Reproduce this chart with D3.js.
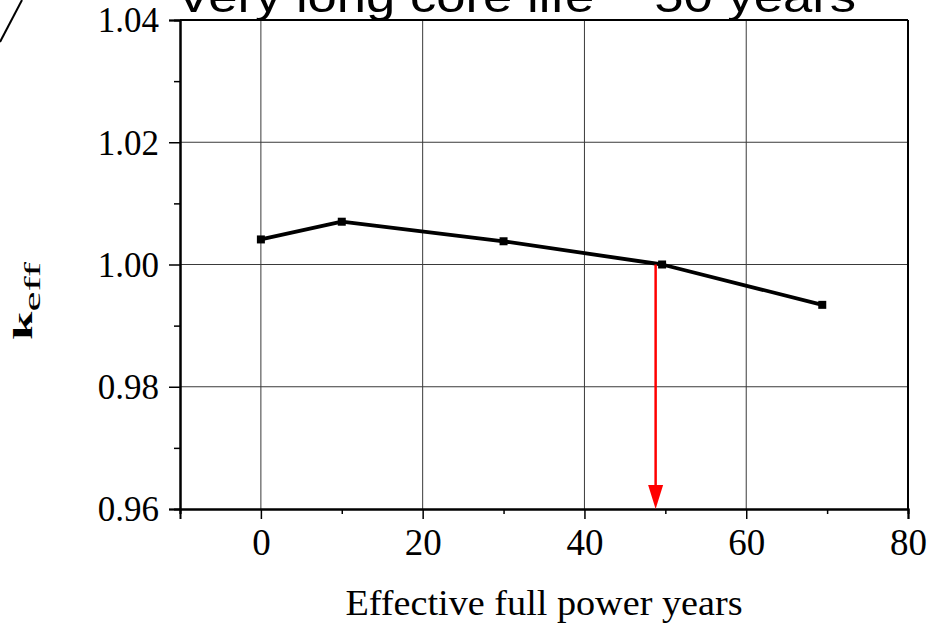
<!DOCTYPE html>
<html>
<head>
<meta charset="utf-8">
<script src="https://cdn.jsdelivr.net/npm/d3@7"></script>
<style>
  html, body { margin: 0; padding: 0; background: #fff; }
  svg { display: block; }
</style>
</head>
<body>
<svg id="chart" width="940" height="623"></svg>
<script>
// ---- data ----
const years = [0, 10, 30, 49.6, 69.4];
const keff = [1.0041, 1.0070, 1.0038, 1.0000, 0.9934];
const xMajorTicks = [0, 20, 40, 60, 80];
const xMinorTicks = [-10, 10, 30, 50, 70];
const yMajorTicks = [0.96, 0.98, 1.00, 1.02, 1.04];
const yMinorTicks = [0.97, 0.99, 1.01, 1.03];
const arrowYear = [48.8];
const arrowKeff = [1.0000];
const titleText = "Very long core life ~ 50 years";
const xLabel = "Effective full power years";

const svg = d3.select("#chart");
const L = 180, R = 908, T = 20, B = 509;
const x = d3.scaleLinear().domain([-10, 80]).range([L, R]);
const y = d3.scaleLinear().domain([0.96, 1.04]).range([B, T]);

// grid
const grid = svg.append("g").attr("stroke", "#3a3a3a").attr("stroke-width", 1);
grid.selectAll("line.gx").data(xMajorTicks.filter(d => d > -10 && d < 80)).enter()
  .append("line").attr("x1", d => x(d)).attr("x2", d => x(d)).attr("y1", T).attr("y2", B);
grid.selectAll("line.gy").data(yMajorTicks.filter(d => d > 0.96 && d < 1.04)).enter()
  .append("line").attr("x1", L).attr("x2", R).attr("y1", d => y(d)).attr("y2", d => y(d));

// frame top/right
svg.append("line").attr("x1", L).attr("x2", R).attr("y1", T).attr("y2", T).attr("stroke", "#000").attr("stroke-width", 2);
svg.append("line").attr("x1", R).attr("x2", R).attr("y1", T).attr("y2", B).attr("stroke", "#000").attr("stroke-width", 2);

// axes
const fontSerif = "'Liberation Serif', 'Times New Roman', serif";
const xAxis = svg.append("g").attr("transform", `translate(0,${B})`)
  .call(d3.axisBottom(x).tickValues(xMajorTicks).tickSize(10).tickPadding(10).tickFormat(d3.format("d")));
const xMinor = svg.append("g").attr("transform", `translate(0,${B})`)
  .call(d3.axisBottom(x).tickValues(xMinorTicks).tickSize(5).tickFormat(""));
const yAxis = svg.append("g").attr("transform", `translate(${L},0)`)
  .call(d3.axisLeft(y).tickValues(yMajorTicks).tickSize(11).tickPadding(10).tickFormat(d3.format(".2f")));
const yMinor = svg.append("g").attr("transform", `translate(${L},0)`)
  .call(d3.axisLeft(y).tickValues(yMinorTicks).tickSize(6).tickFormat(""));

[xAxis, xMinor, yAxis, yMinor].forEach(g => {
  g.select(".domain").attr("stroke", "#000").attr("stroke-width", 2);
  g.selectAll(".tick line").attr("stroke", "#000").attr("stroke-width", 1.5);
  g.selectAll("text").attr("fill", "#000").style("font-family", fontSerif);
});
xAxis.selectAll("text").style("font-size", "37px");
yAxis.selectAll("text").style("font-size", "35px").attr("dy", "0.34em");

// data line
const line = d3.line().x((d, i) => x(years[i])).y(d => y(d));
svg.append("path").datum(keff).attr("d", line)
  .attr("fill", "none").attr("stroke", "#000").attr("stroke-width", 3.8).attr("stroke-linejoin", "round");
svg.selectAll("rect.pt").data(keff).enter().append("rect")
  .attr("x", (d, i) => x(years[i]) - 4).attr("y", d => y(d) - 4)
  .attr("width", 8).attr("height", 8).attr("fill", "#000");

// red arrow
const ax = x(arrowYear[0]);
svg.append("line").attr("x1", ax).attr("x2", ax).attr("y1", y(arrowKeff[0])).attr("y2", B - 20)
  .attr("stroke", "#ff0000").attr("stroke-width", 2.5);
svg.append("path")
  .attr("d", `M${ax - 7.5},${B - 24} L${ax + 7.5},${B - 24} L${ax},${B} Z`)
  .attr("fill", "#ff0000");

// title
svg.append("text").attr("x", 176).attr("y", 12)
  .attr("textLength", 680).attr("lengthAdjust", "spacingAndGlyphs")
  .style("font-family", "'Liberation Sans', Arial, sans-serif").style("font-size", "45px")
  .attr("fill", "#000").text(titleText);

// x label
svg.append("text").attr("x", 544).attr("y", 615).attr("text-anchor", "middle")
  .attr("textLength", 397).attr("lengthAdjust", "spacingAndGlyphs")
  .style("font-family", fontSerif).style("font-size", "35px")
  .attr("fill", "#000").text(xLabel);

// y label k_eff
const yl = svg.append("text").attr("transform", "translate(32,340) rotate(-90)")
  .style("font-family", fontSerif).attr("fill", "#000")
  .attr("textLength", 78).attr("lengthAdjust", "spacingAndGlyphs");
yl.append("tspan").text("k").style("font-weight", "bold").style("font-size", "27px");
yl.append("tspan").text("eff").style("font-size", "24px").attr("dy", 8);

// top-left decoration stroke
svg.append("line").attr("x1", 0).attr("y1", 42).attr("x2", 22).attr("y2", 0)
  .attr("stroke", "#000").attr("stroke-width", 2);
</script>
</body>
</html>
